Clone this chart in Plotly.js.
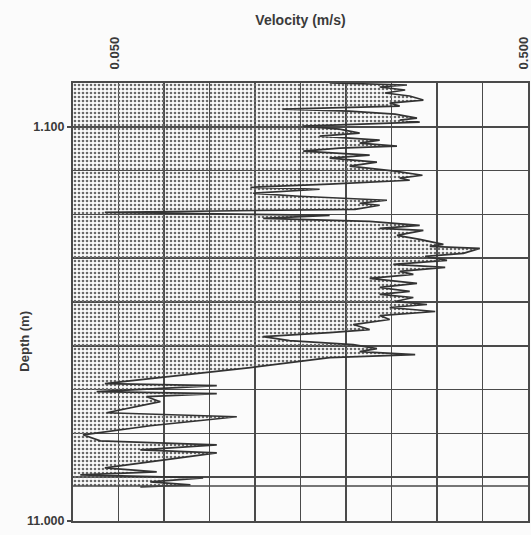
<!DOCTYPE html>
<html>
<head>
<meta charset="utf-8">
<script src="https://cdn.plot.ly/plotly-3.0.1.min.js"></script>
<style>
html,body{margin:0;padding:0;background:#fbfbfb;}
#chart{width:531px;height:535px;}
</style>
</head>
<body>
<div id="chart"></div>
<script>
// Depth (m) of each profile point, top to bottom
const depth = [0.000,0.050,0.101,0.176,0.252,0.327,0.428,0.503,0.579,0.654,0.705,0.780,0.881,0.931,0.982,
  1.082,1.158,1.259,1.334,1.435,1.510,1.586,1.636,1.712,1.812,1.888,1.988,2.089,2.215,2.316,2.391,2.442,
  2.542,2.618,2.668,2.769,2.844,2.945,3.020,3.071,3.172,3.247,3.323,3.398,3.474,3.574,3.650,3.700,3.826,
  3.927,4.052,4.103,4.153,4.279,4.355,4.455,4.556,4.631,4.732,4.808,4.908,5.034,5.135,5.235,5.311,5.387,
  5.487,5.563,5.638,5.739,5.840,5.940,6.066,6.192,6.267,6.368,6.469,6.570,6.670,6.746,6.821,6.897,7.148,
  7.400,7.551,7.601,7.753,7.803,7.878,8.004,8.281,8.382,8.608,8.835,8.986,9.087,9.212,9.288,9.666,9.766,
  9.842,9.917,10.018,10.093,10.144];
// Velocity (m/s) at each depth
const velocity = [0.282,0.367,0.337,0.365,0.343,0.370,0.385,0.348,0.359,0.231,0.304,0.354,0.378,0.359,0.381,
  0.253,0.293,0.315,0.271,0.337,0.315,0.356,0.293,0.253,0.326,0.282,0.334,0.304,0.354,0.384,0.359,0.370,
  0.282,0.195,0.271,0.198,0.249,0.345,0.315,0.337,0.310,0.035,0.282,0.209,0.326,0.381,0.337,0.385,0.356,
  0.381,0.407,0.392,0.447,0.429,0.387,0.411,0.352,0.409,0.359,0.374,0.326,0.378,0.337,0.370,0.337,0.374,
  0.354,0.389,0.348,0.398,0.337,0.348,0.308,0.326,0.282,0.209,0.238,0.308,0.334,0.315,0.376,0.282,0.195,
  0.096,0.035,0.158,0.026,0.158,0.081,0.096,0.037,0.180,0.085,0.011,0.030,0.158,0.074,0.158,0.035,0.092,
  0.008,0.143,0.085,0.129,0.074];
// Axis labels
const xTickVals = [0.05, 0.5];
const xTickText = ["0.050", "0.500"];
const yTickVals = [1.1, 11.0];
const yTickText = ["1.100", "11.000"];
const xRange = [0, 0.5];
const yRange = [11.0, 0];
const xGridStep = 0.05;
const yGridStep = 1.1;
const bedDepth = [10.12];

const gridCol = '#4a4a4a';
const fam = 'Liberation Sans, Arial, sans-serif';

const traces = [{
  type: 'scatter',
  mode: 'lines',
  x: velocity,
  y: depth,
  fill: 'tozerox',
  fillcolor: 'rgba(0,0,0,0)',
  fillpattern: {shape: '.', fgcolor: '#6a6a6a', bgcolor: 'rgba(255,255,255,0)', size: 4, solidity: 0.35},
  line: {color: '#333333', width: 1.7, shape: 'linear'},
  hoverinfo: 'skip',
  showlegend: false
}];

const layout = {
  width: 531, height: 535,
  margin: {l: 73, r: 3, t: 83, b: 14},
  paper_bgcolor: '#fbfbfb',
  plot_bgcolor: '#fbfbfb',
  showlegend: false,
  xaxis: {
    side: 'top',
    range: xRange,
    tickmode: 'array', tickvals: xTickVals, ticktext: xTickText,
    tickangle: -90,
    ticks: '',
    ticklabelstandoff: 9,
    ticklabelshift: -4,
    ticklabeloverflow: 'allow',
    tickfont: {family: fam, size: 13, color: '#3a3a3a', weight: 'bold'},
    showgrid: true, gridcolor: gridCol, gridwidth: 1.5,
    minor: {tickmode: 'linear', tick0: 0, dtick: xGridStep, showgrid: true, gridcolor: gridCol, gridwidth: 1.5, ticks: ''},
    showline: true, mirror: true, linecolor: gridCol, linewidth: 2,
    zeroline: false,
    title: {text: 'Velocity (m/s)', font: {family: fam, size: 14, color: '#3a3a3a', weight: 'bold'}, standoff: 8}
  },
  yaxis: {
    range: yRange,
    tickmode: 'array', tickvals: yTickVals, ticktext: yTickText,
    ticks: 'outside', ticklen: 4, tickcolor: gridCol, tickwidth: 1.5,
    tickfont: {family: fam, size: 12.5, color: '#3a3a3a', weight: 'bold'},
    showgrid: true, gridcolor: gridCol, gridwidth: 1.5,
    minor: {tickmode: 'linear', tick0: 0, dtick: yGridStep, showgrid: true, gridcolor: gridCol, gridwidth: 1.5, ticks: ''},
    showline: true, mirror: true, linecolor: gridCol, linewidth: 2,
    zeroline: false
  },
  shapes: [{
    type: 'line', xref: 'paper', x0: 0, x1: 1, yref: 'y', y0: bedDepth[0], y1: bedDepth[0],
    line: {color: gridCol, width: 1.5}
  }],
  annotations: [{
    text: 'Depth (m)', xref: 'paper', yref: 'paper', x: -0.128, y: 0.41,
    textangle: -90, showarrow: false,
    font: {family: fam, size: 13, color: '#3a3a3a', weight: 'bold'}
  }]
};

Plotly.newPlot('chart', traces, layout, {displayModeBar: false, staticPlot: true});
</script>
</body>
</html>
